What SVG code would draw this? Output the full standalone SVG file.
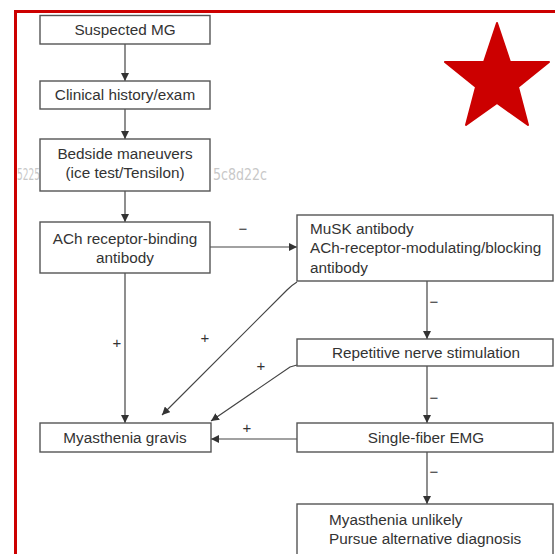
<svg xmlns="http://www.w3.org/2000/svg" width="555" height="554" viewBox="0 0 555 554">
<style>
.box{fill:#fff;stroke:#555;stroke-width:1.4}
.t{font-family:"Liberation Sans",Arial,sans-serif;font-size:15.3px;fill:#333}
.c{text-anchor:middle}
.ln{fill:none;stroke:#444;stroke-width:1.2}
.lb{font-family:"Liberation Sans",Arial,sans-serif;font-size:15px;fill:#333;text-anchor:middle}
.wm{font-family:"DejaVu Sans",sans-serif;font-size:15px;fill:#c8c8c8}
</style>
<defs>
<marker id="ah" viewBox="0 0 10 10" refX="10" refY="5" markerWidth="8" markerHeight="8" markerUnits="userSpaceOnUse" orient="auto">
<path d="M0,0 L10,5 L0,10 Z" fill="#333"/>
</marker>
</defs>
<rect x="0" y="0" width="555" height="554" fill="#fff"/>
<rect x="15.5" y="11.5" width="600" height="600" fill="none" stroke="#cc0000" stroke-width="3"/>
<text class="wm" x="17" y="180" textLength="23" lengthAdjust="spacingAndGlyphs">5225</text>
<text class="wm" x="213" y="180" textLength="54" lengthAdjust="spacingAndGlyphs">5c8d22c</text>
<polygon points="497,23 510,62 549,62 518,87 528,125 497,103 466,125 476,87 445,62 484,62" fill="#cc0000" stroke="#cc0000" stroke-width="2" stroke-linejoin="round"/>
<g id="connectors">
<line class="ln" x1="125" y1="44" x2="125" y2="81" marker-end="url(#ah)"/>
<line class="ln" x1="125" y1="109" x2="125" y2="139" marker-end="url(#ah)"/>
<line class="ln" x1="125" y1="191" x2="125" y2="222" marker-end="url(#ah)"/>
<line class="ln" x1="210" y1="247" x2="297" y2="247" marker-end="url(#ah)"/>
<text class="lb" x="243" y="234">−</text>
<line class="ln" x1="125" y1="273" x2="125" y2="423" marker-end="url(#ah)"/>
<text class="lb" x="117" y="348">+</text>
<line class="ln" x1="427" y1="281" x2="427" y2="339" marker-end="url(#ah)"/>
<text class="lb" x="434" y="307">−</text>
<line class="ln" x1="427" y1="366" x2="427" y2="423" marker-end="url(#ah)"/>
<text class="lb" x="434" y="403">−</text>
<line class="ln" x1="427" y1="452" x2="427" y2="504" marker-end="url(#ah)"/>
<text class="lb" x="434" y="477">−</text>
<path class="ln" d="M297,282 Q292,285 287,290 L162,415" marker-end="url(#ah)"/>
<text class="lb" x="205" y="343">+</text>
<path class="ln" d="M297,365 L290,367 L211,421" marker-end="url(#ah)"/>
<text class="lb" x="261" y="371">+</text>
<line class="ln" x1="297" y1="439" x2="211" y2="439" marker-end="url(#ah)"/>
<text class="lb" x="247" y="433">+</text>
</g>
<g id="n1"><rect class="box" x="40" y="15.5" width="170" height="28.5"/><text class="t c" x="125" y="35">Suspected MG</text></g>
<g id="n2"><rect class="box" x="40" y="81" width="170" height="28"/><text class="t c" x="125" y="100">Clinical history/exam</text></g>
<g id="n3"><rect class="box" x="40" y="139" width="170" height="52"/><text class="t c" x="125" y="159">Bedside maneuvers</text><text class="t c" x="125" y="178">(ice test/Tensilon)</text></g>
<g id="n4"><rect class="box" x="40" y="222" width="170" height="51"/><text class="t c" x="125" y="244">ACh receptor-binding</text><text class="t c" x="125" y="263">antibody</text></g>
<g id="n5"><rect class="box" x="297" y="215" width="256" height="66"/><text class="t" x="310" y="234">MuSK antibody</text><text class="t" x="310" y="253">ACh-receptor-modulating/blocking</text><text class="t" x="310" y="273">antibody</text></g>
<g id="n6"><rect class="box" x="297" y="339" width="256" height="27"/><text class="t c" x="426" y="358">Repetitive nerve stimulation</text></g>
<g id="n7"><rect class="box" x="40" y="423" width="171" height="29"/><text class="t c" x="125" y="443">Myasthenia gravis</text></g>
<g id="n8"><rect class="box" x="297" y="423" width="256" height="29"/><text class="t c" x="426" y="443">Single-fiber EMG</text></g>
<g id="n9"><rect class="box" x="297" y="504" width="256" height="70"/><text class="t" x="329" y="525">Myasthenia unlikely</text><text class="t" x="329" y="544">Pursue alternative diagnosis</text></g>
</svg>
